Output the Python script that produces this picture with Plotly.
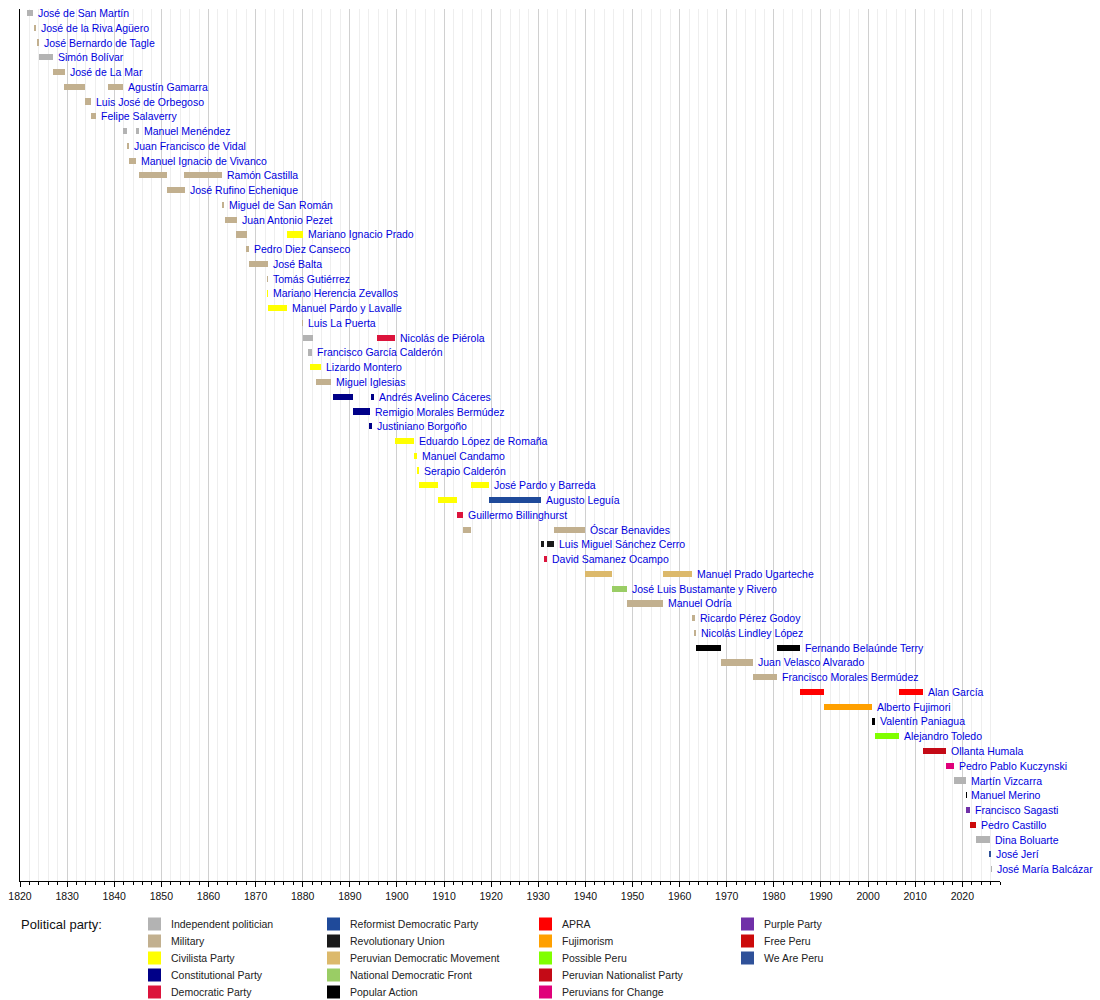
import plotly.graph_objects as go

# Parties and their colours, in legend order (column by column)
parties = [
    "Independent politician", "Military", "Civilista Party",
    "Constitutional Party", "Democratic Party",
    "Reformist Democratic Party", "Revolutionary Union",
    "Peruvian Democratic Movement", "National Democratic Front",
    "Popular Action",
    "APRA", "Fujimorism", "Possible Peru", "Peruvian Nationalist Party",
    "Peruvians for Change",
    "Purple Party", "Free Peru", "We Are Peru",
]
party_colors = [
    "#b3b3b3", "#c2b08f", "#ffff00", "#000088", "#dc143c",
    "#1f4a9a", "#1a1a1a", "#dcb96b", "#9acd65", "#000000",
    "#ff0000", "#ffa000", "#80ff00", "#c40a16", "#e0007a",
    "#7030a8", "#cc0a0a", "#2f5199",
]

# One row per president, top to bottom
presidents = [
    "José de San Martín", "José de la Riva Agüero", "José Bernardo de Tagle",
    "Simón Bolívar", "José de La Mar", "Agustín Gamarra",
    "Luis José de Orbegoso", "Felipe Salaverry", "Manuel Menéndez",
    "Juan Francisco de Vidal", "Manuel Ignacio de Vivanco", "Ramón Castilla",
    "José Rufino Echenique", "Miguel de San Román", "Juan Antonio Pezet",
    "Mariano Ignacio Prado", "Pedro Diez Canseco", "José Balta",
    "Tomás Gutiérrez", "Mariano Herencia Zevallos", "Manuel Pardo y Lavalle",
    "Luis La Puerta", "Nicolás de Piérola", "Francisco García Calderón",
    "Lizardo Montero", "Miguel Iglesias", "Andrés Avelino Cáceres",
    "Remigio Morales Bermúdez", "Justiniano Borgoño",
    "Eduardo López de Romaña", "Manuel Candamo", "Serapio Calderón",
    "José Pardo y Barreda", "Augusto Leguía", "Guillermo Billinghurst",
    "Óscar Benavides", "Luis Miguel Sánchez Cerro", "David Samanez Ocampo",
    "Manuel Prado Ugarteche", "José Luis Bustamante y Rivero",
    "Manuel Odría", "Ricardo Pérez Godoy", "Nicolás Lindley López",
    "Fernando Belaúnde Terry", "Juan Velasco Alvarado",
    "Francisco Morales Bermúdez", "Alan García", "Alberto Fujimori",
    "Valentín Paniagua", "Alejandro Toledo", "Ollanta Humala",
    "Pedro Pablo Kuczynski", "Martín Vizcarra", "Manuel Merino",
    "Francisco Sagasti", "Pedro Castillo", "Dina Boluarte", "José Jerí",
    "José María Balcázar",
]

# Terms in office (decimal years)
term_president = [
    "José de San Martín", "José de la Riva Agüero", "José Bernardo de Tagle",
    "Simón Bolívar", "José de La Mar", "Agustín Gamarra", "Agustín Gamarra",
    "Luis José de Orbegoso", "Felipe Salaverry", "Manuel Menéndez",
    "Manuel Menéndez", "Juan Francisco de Vidal", "Manuel Ignacio de Vivanco",
    "Ramón Castilla", "Ramón Castilla", "José Rufino Echenique",
    "Miguel de San Román", "Juan Antonio Pezet", "Mariano Ignacio Prado",
    "Mariano Ignacio Prado", "Pedro Diez Canseco", "José Balta",
    "Tomás Gutiérrez", "Mariano Herencia Zevallos", "Manuel Pardo y Lavalle",
    "Luis La Puerta", "Nicolás de Piérola", "Nicolás de Piérola",
    "Francisco García Calderón", "Lizardo Montero", "Miguel Iglesias",
    "Andrés Avelino Cáceres", "Andrés Avelino Cáceres",
    "Remigio Morales Bermúdez", "Justiniano Borgoño",
    "Eduardo López de Romaña", "Manuel Candamo", "Serapio Calderón",
    "José Pardo y Barreda", "José Pardo y Barreda", "Augusto Leguía",
    "Augusto Leguía", "Guillermo Billinghurst", "Óscar Benavides",
    "Óscar Benavides", "Luis Miguel Sánchez Cerro",
    "Luis Miguel Sánchez Cerro", "David Samanez Ocampo",
    "Manuel Prado Ugarteche", "Manuel Prado Ugarteche",
    "José Luis Bustamante y Rivero", "Manuel Odría", "Ricardo Pérez Godoy",
    "Nicolás Lindley López", "Fernando Belaúnde Terry",
    "Fernando Belaúnde Terry", "Juan Velasco Alvarado",
    "Francisco Morales Bermúdez", "Alan García", "Alan García",
    "Alberto Fujimori", "Valentín Paniagua", "Alejandro Toledo",
    "Ollanta Humala", "Pedro Pablo Kuczynski", "Martín Vizcarra",
    "Manuel Merino", "Francisco Sagasti", "Pedro Castillo", "Dina Boluarte",
    "José Jerí", "José María Balcázar",
]
term_start = [
    1821.57, 1823.16, 1823.54, 1824.0, 1827.1, 1829.3, 1838.75,
    1833.8, 1835.1, 1841.88, 1844.65, 1842.62, 1843.1,
    1845.2, 1854.85, 1851.3, 1862.8, 1863.6, 1865.9, 1876.58,
    1868.0, 1868.59, 1872.55, 1872.57, 1872.59, 1879.96,
    1879.97, 1895.69, 1881.19, 1881.6, 1882.9, 1886.4, 1894.6,
    1890.6, 1894.27, 1899.69, 1903.69, 1904.35, 1904.73, 1915.63,
    1908.73, 1919.5, 1912.73, 1914.09, 1933.33, 1930.65, 1931.93,
    1931.19, 1939.93, 1956.57, 1945.57, 1948.83, 1962.55, 1963.17,
    1963.57, 1980.57, 1968.75, 1975.66, 1985.57, 2006.57, 1990.57,
    2000.89, 2001.57, 2011.57, 2016.57, 2018.23, 2020.86, 2020.88,
    2021.57, 2022.93, 2025.78, 2026.13,
]
term_end = [
    1822.72, 1823.47, 1824.11, 1827.07, 1829.45, 1833.9, 1841.88,
    1835.15, 1836.05, 1842.62, 1845.3, 1843.2, 1844.6,
    1851.3, 1862.8, 1855.0, 1863.25, 1865.95, 1868.1, 1879.96,
    1868.59, 1872.55, 1872.56, 1872.59, 1876.58, 1879.97,
    1882.2, 1899.69, 1881.9, 1883.85, 1885.92, 1890.6, 1895.2,
    1894.27, 1894.62, 1903.69, 1904.35, 1904.73, 1908.73, 1919.5,
    1912.73, 1930.65, 1914.09, 1915.63, 1939.93, 1931.17, 1933.33,
    1931.93, 1945.57, 1962.55, 1948.83, 1956.57, 1963.17, 1963.57,
    1968.75, 1985.57, 1975.66, 1980.57, 1990.57, 2011.57, 2000.89,
    2001.57, 2006.57, 2016.57, 2018.23, 2020.86, 2020.88, 2021.57,
    2022.93, 2025.78, 2026.13, 2026.3,
]
term_party = [
    "Independent politician", "Military", "Military",
    "Independent politician", "Military", "Military", "Military",
    "Military", "Military", "Independent politician",
    "Independent politician", "Military", "Military",
    "Military", "Military", "Military", "Military", "Military", "Military",
    "Civilista Party", "Military", "Military", "Military", "Civilista Party",
    "Civilista Party", "Military", "Independent politician",
    "Democratic Party", "Independent politician", "Civilista Party",
    "Military", "Constitutional Party", "Constitutional Party",
    "Constitutional Party", "Constitutional Party", "Civilista Party",
    "Civilista Party", "Civilista Party", "Civilista Party",
    "Civilista Party", "Civilista Party", "Reformist Democratic Party",
    "Democratic Party", "Military", "Military", "Revolutionary Union",
    "Revolutionary Union", "Democratic Party",
    "Peruvian Democratic Movement", "Peruvian Democratic Movement",
    "National Democratic Front", "Military", "Military", "Military",
    "Popular Action", "Popular Action", "Military", "Military", "APRA",
    "APRA", "Fujimorism", "Popular Action", "Possible Peru",
    "Peruvian Nationalist Party", "Peruvians for Change",
    "Independent politician", "Popular Action", "Purple Party", "Free Peru",
    "Independent politician", "We Are Peru", "Independent politician",
]

X_MIN, X_MAX = 1820, 2028
MARGIN_L, MARGIN_R, MARGIN_T, MARGIN_B = 20, 100, 9, 119
PLOT_W = 1100 - MARGIN_L - MARGIN_R
PLOT_H = 1000 - MARGIN_T - MARGIN_B
ROW_PX = 14.76
FONT = "Liberation Sans, Arial"

fig = go.Figure()

row_of = {name: i for i, name in enumerate(presidents)}

# one bar trace per party
for party, color in zip(parties, party_colors):
    idx = [i for i, p in enumerate(term_party) if p == party]
    if not idx:
        continue
    fig.add_trace(go.Bar(
        orientation="h",
        y=[row_of[term_president[i]] for i in idx],
        base=[term_start[i] for i in idx],
        x=[term_end[i] - term_start[i] for i in idx],
        width=0.42,
        marker=dict(color=color, line=dict(width=0)),
        name=party,
        showlegend=False,
        hovertemplate=party + "<extra></extra>",
    ))

annotations = []

# name label after each president's last term
for i, name in enumerate(presidents):
    last_end = max(e for p, e in zip(term_president, term_end) if p == name)
    annotations.append(dict(
        x=last_end, y=i, xref="x", yref="y", text=name,
        showarrow=False, xanchor="left", yanchor="middle", xshift=3,
        font=dict(family=FONT, size=10.5, color="#0000dd"),
    ))


# party legend drawn under the axis
def px_to_paper(px, py):
    return (px - MARGIN_L) / PLOT_W, (1000 - MARGIN_B - py) / PLOT_H


legend_cols = [148, 327, 539, 741]
shapes = []
lx, ly = px_to_paper(19, 924)
annotations.append(dict(
    x=lx, y=ly, xref="paper", yref="paper", text="Political party:",
    showarrow=False, xanchor="left", yanchor="middle",
    font=dict(family=FONT, size=13, color="#111"),
))
for k, (party, color) in enumerate(zip(parties, party_colors)):
    col, row = divmod(k, 5)
    bx = legend_cols[col]
    by = 924 + row * 17
    x0, y0 = px_to_paper(bx, by + 6.5)
    x1, y1 = px_to_paper(bx + 13, by - 6.5)
    shapes.append(dict(type="rect", xref="paper", yref="paper",
                       x0=x0, y0=y0, x1=x1, y1=y1,
                       fillcolor=color, line=dict(width=0)))
    tx, ty = px_to_paper(bx + 20.5, by)
    annotations.append(dict(
        x=tx, y=ty, xref="paper", yref="paper", text=party,
        showarrow=False, xanchor="left", yanchor="middle",
        font=dict(family=FONT, size=10.5, color="#222"),
    ))

top_pad = 4 / ROW_PX
bottom_pad = (PLOT_H - 4) / ROW_PX - (len(presidents) - 1)

fig.update_layout(
    width=1100,
    height=1000,
    margin=dict(l=MARGIN_L, r=MARGIN_R, t=MARGIN_T, b=MARGIN_B),
    plot_bgcolor="white",
    paper_bgcolor="white",
    barmode="overlay",
    bargap=0,
    shapes=shapes,
    annotations=annotations,
    font=dict(family=FONT, size=10, color="#111"),
    xaxis=dict(
        range=[X_MIN, X_MAX],
        tick0=1820,
        dtick=10,
        showgrid=True,
        gridcolor="#d0d0d0",
        gridwidth=1,
        ticks="outside",
        ticklen=5,
        tickcolor="black",
        showline=True,
        linecolor="black",
        linewidth=1,
        zeroline=False,
        tickfont=dict(size=10.5, color="#111"),
        minor=dict(dtick=2, tick0=1820, showgrid=True, gridcolor="#eeeeee",
                   ticks="outside", ticklen=3, tickcolor="black"),
    ),
    yaxis=dict(
        range=[len(presidents) - 1 + bottom_pad, -top_pad],
        showgrid=False,
        showticklabels=False,
        ticks="",
        zeroline=False,
        showline=True,
        linecolor="black",
        linewidth=1,
    ),
)

fig.write_html("out.html",
               config={"displayModeBar": False},
               post_script="document.body.style.margin = '0';")
